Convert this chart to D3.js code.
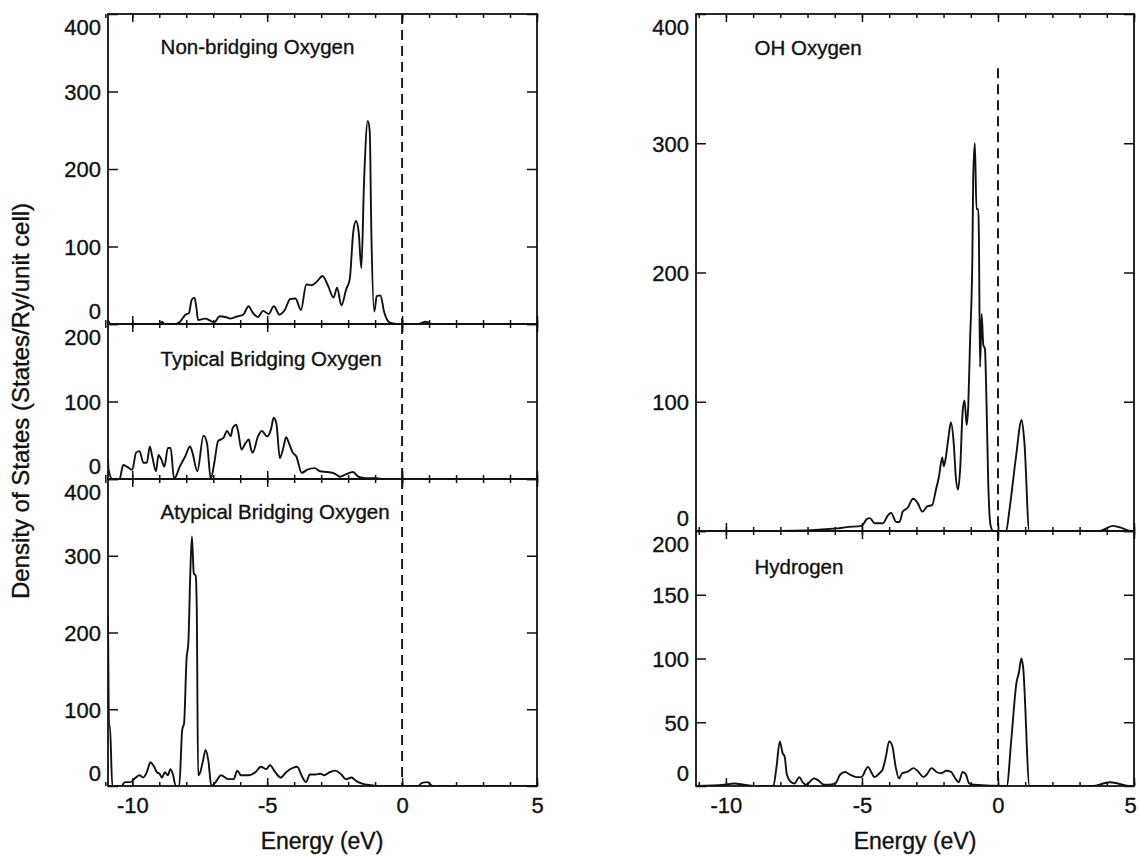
<!DOCTYPE html>
<html>
<head>
<meta charset="utf-8">
<script src="https://cdn.jsdelivr.net/npm/d3@7"></script>
<style>
  body { margin: 0; background: #fff; }
  svg text { font-family: "Liberation Sans", Arial, Helvetica, sans-serif; fill: #111; stroke: #111; stroke-width: 0.35px; }
</style>
</head>
<body>
<div id="chart"></div>
<script>
// energies in eV, density of states
var nonBridging = [[-10.9,5],[-10.8,0],[-9.0,0],[-8.9,3],[-8.8,0],[-8.4,0],[-8.23,3],[-8.03,12],[-7.9,14],[-7.8,31],[-7.7,34],[-7.63,23],[-7.56,5],[-7.3,7],[-7.1,4],[-6.96,2],[-6.76,10],[-6.56,9],[-6.36,7],[-6.09,10],[-5.89,12],[-5.69,23],[-5.56,16],[-5.35,9],[-5.15,17],[-4.95,13],[-4.75,23],[-4.55,12],[-4.35,18],[-4.15,32],[-3.95,33],[-3.75,18],[-3.55,51],[-3.35,50],[-3.15,55],[-2.95,62],[-2.74,49],[-2.54,34],[-2.41,47],[-2.25,24],[-2.07,45],[-1.94,58],[-1.81,119],[-1.71,133],[-1.61,119],[-1.51,72],[-1.41,184],[-1.27,262],[-1.2,249],[-1.14,119],[-1.03,16],[-0.94,36],[-0.8,37],[-0.67,16],[-0.47,2],[-0.2,0],[0.6,0],[0.87,3],[1.1,0],[5,0]];

var typicalBridging = [[-10.9,27],[-10.88,12],[-10.74,0],[-10.47,0],[-10.34,18],[-10.2,16],[-10.0,12],[-9.86,34],[-9.73,36],[-9.59,21],[-9.46,21],[-9.35,42],[-9.26,29],[-9.12,10],[-9.03,31],[-8.92,25],[-8.81,16],[-8.68,40],[-8.58,40],[-8.45,0],[-8.24,16],[-8.04,29],[-7.86,42],[-7.77,34],[-7.59,10],[-7.36,56],[-7.23,46],[-7.09,0],[-6.96,21],[-6.82,49],[-6.62,53],[-6.49,62],[-6.35,55],[-6.28,66],[-6.15,70],[-6.08,62],[-5.95,38],[-5.81,46],[-5.68,51],[-5.61,40],[-5.54,34],[-5.34,55],[-5.2,62],[-5.0,55],[-4.86,64],[-4.76,79],[-4.66,72],[-4.53,27],[-4.39,42],[-4.3,54],[-4.19,46],[-4.05,34],[-3.92,29],[-3.72,8],[-3.51,12],[-3.24,14],[-3.04,10],[-2.77,9],[-2.5,7],[-2.3,3],[-2.09,6],[-1.82,9],[-1.62,3],[-1.35,1],[-0.95,1],[-0.68,0],[5,0]];

var atypicalBridging = [[-10.9,222],[-10.86,79],[-10.83,79],[-10.74,0],[-10.4,0],[-10.27,5],[-10.07,5],[-9.87,11],[-9.73,14],[-9.6,11],[-9.46,18],[-9.33,31],[-9.19,25],[-9.09,18],[-8.99,16],[-8.9,11],[-8.79,18],[-8.68,14],[-8.59,22],[-8.5,16],[-8.39,0],[-8.26,0],[-8.15,73],[-8.08,82],[-7.99,165],[-7.92,188],[-7.85,277],[-7.79,325],[-7.72,277],[-7.65,274],[-7.61,231],[-7.56,14],[-7.48,18],[-7.38,33],[-7.28,47],[-7.18,33],[-7.07,0],[-6.91,5],[-6.71,14],[-6.44,9],[-6.24,9],[-6.11,20],[-5.97,14],[-5.7,14],[-5.44,18],[-5.23,25],[-5.03,22],[-4.9,27],[-4.7,18],[-4.5,11],[-4.3,18],[-4.03,24],[-3.89,25],[-3.69,11],[-3.56,5],[-3.42,15],[-3.22,15],[-3.02,16],[-2.89,14],[-2.68,18],[-2.48,20],[-2.28,16],[-2.08,9],[-1.88,11],[-1.68,6],[-1.48,3],[-1.14,1],[-0.87,0],[0.6,0],[0.74,4],[0.94,5],[1.14,0],[5,0]];

var ohOxygen = [[-11.1,0],[-8.09,0],[-5.92,2],[-5.56,3],[-5.01,4],[-4.83,9],[-4.71,10],[-4.53,6],[-4.23,6],[-4.05,12],[-3.93,14],[-3.74,7],[-3.62,7],[-3.5,15],[-3.32,18],[-3.12,25],[-2.96,22],[-2.78,15],[-2.6,19],[-2.42,20],[-2.29,31],[-2.17,42],[-2.05,57],[-1.99,50],[-1.91,58],[-1.81,74],[-1.73,84],[-1.63,69],[-1.55,42],[-1.47,32],[-1.39,48],[-1.3,92],[-1.23,101],[-1.15,82],[-1.09,98],[-1.03,144],[-0.94,214],[-0.91,274],[-0.85,300],[-0.79,249],[-0.72,249],[-0.7,226],[-0.66,127],[-0.6,168],[-0.54,144],[-0.48,141],[-0.42,98],[-0.36,39],[-0.27,4],[-0.18,0],[0.3,0],[0.42,16],[0.66,57],[0.87,86],[0.97,69],[1.15,0],[3.74,0],[4.23,4],[4.59,2],[4.89,0],[5,0]];

var hydrogen = [[-11.1,0],[-10.06,1],[-9.7,2],[-9.34,1],[-8.98,0],[-8.26,0],[-8.14,15],[-8.02,35],[-7.92,26],[-7.84,23],[-7.76,9],[-7.6,3],[-7.48,2],[-7.3,7],[-7.18,3],[-7.06,1],[-6.76,6],[-6.58,4],[-6.4,1],[-6.22,1],[-5.98,2],[-5.8,9],[-5.62,11],[-5.44,9],[-5.2,7],[-5.02,7],[-4.78,15],[-4.66,11],[-4.54,7],[-4.36,10],[-4.24,13],[-4.12,23],[-4.0,35],[-3.88,31],[-3.76,15],[-3.64,6],[-3.52,10],[-3.34,11],[-3.1,14],[-2.92,11],[-2.74,7],[-2.62,9],[-2.44,14],[-2.26,11],[-2.08,10],[-1.9,12],[-1.72,11],[-1.6,7],[-1.44,3],[-1.3,11],[-1.18,9],[-1.06,2],[-0.88,1],[0.32,0],[0.5,39],[0.68,81],[0.77,89],[0.86,100],[0.92,94],[1.16,0],[3.5,0],[3.87,2],[4.11,3],[4.41,2],[4.83,0],[5,0]];

var panelTitles = ["Non-bridging Oxygen", "Typical Bridging Oxygen", "Atypical Bridging Oxygen", "OH Oxygen", "Hydrogen"];
var xTickValues = [-10, -5, 0, 5];
var xMinorValues = d3.range(-11, 6);
var yTicks400 = [0, 100, 200, 300, 400];
var yTicks200 = [0, 100, 200];
var yTicksH = [0, 50, 100, 150, 200];
var fermiLevel = 0;

var svgWidth = 1139;
var svgHeight = 857;

var svg = d3.select("#chart")
    .append("svg")
    .attr("width", svgWidth)
    .attr("height", svgHeight);

var xLeft = d3.scaleLinear().domain([-10.9, 5]).range([108, 537]);
var xRight = d3.scaleLinear().domain([-11.1, 5]).range([696, 1134]);

var panels = [
    { data: nonBridging, title: panelTitles[0], x: xLeft, top: 14, bottom: 324, max: 400, ticks: yTicks400, titleY: 54, bottomAxis: false, dashFrom: null },
    { data: typicalBridging, title: panelTitles[1], x: xLeft, top: 324, bottom: 479, max: 200, ticks: yTicks200, titleY: 366, bottomAxis: false, dashFrom: null },
    { data: atypicalBridging, title: panelTitles[2], x: xLeft, top: 479, bottom: 786, max: 400, ticks: yTicks400, titleY: 519, bottomAxis: true, dashFrom: null },
    { data: ohOxygen, title: panelTitles[3], x: xRight, top: 14, bottom: 531, max: 400, ticks: yTicks400, titleY: 55, bottomAxis: false, dashFrom: 358 },
    { data: hydrogen, title: panelTitles[4], x: xRight, top: 531, bottom: 786, max: 200, ticks: yTicksH, titleY: 574, bottomAxis: true, dashFrom: null }
];

var plainNum = d => String(d);

panels.forEach(function(p, i) {
    var x = p.x;
    var y = d3.scaleLinear().domain([0, p.max]).range([p.bottom, p.top]);
    var x0 = x.range()[0], x1 = x.range()[1];
    var g = svg.append("g");

    g.append("clipPath").attr("id", "clip" + i)
        .append("rect")
        .attr("x", x0).attr("y", p.top)
        .attr("width", x1 - x0).attr("height", p.bottom - p.top);

    // data curve
    var line = d3.line().x(d => x(d[0])).y(d => y(d[1])).curve(d3.curveMonotoneX);
    g.append("path")
        .datum(p.data)
        .attr("clip-path", "url(#clip" + i + ")")
        .attr("fill", "none")
        .attr("stroke", "#111")
        .attr("stroke-width", 1.9)
        .attr("stroke-linejoin", "round")
        .attr("d", line);

    // fermi level
    var dashTop = p.dashFrom === null ? p.top : y(p.dashFrom);
    g.append("line")
        .attr("x1", x(fermiLevel)).attr("x2", x(fermiLevel))
        .attr("y1", dashTop).attr("y2", p.bottom)
        .attr("stroke", "#111")
        .attr("stroke-width", 1.9)
        .attr("stroke-dasharray", "10,6");

    // ticks, pointing inward
    var bottomMajor = d3.axisBottom(x).tickValues(xTickValues).tickSize(-8).tickPadding(11)
        .tickFormat(p.bottomAxis ? plainNum : "");
    var bottomMinor = d3.axisBottom(x).tickValues(xMinorValues).tickSize(-4).tickFormat("");
    var topMajor = d3.axisTop(x).tickValues(xTickValues).tickSize(-8).tickFormat("");
    var topMinor = d3.axisTop(x).tickValues(xMinorValues).tickSize(-4).tickFormat("");

    var bx = g.append("g").attr("transform", `translate(0, ${p.bottom})`).call(bottomMajor);
    g.append("g").attr("transform", `translate(0, ${p.bottom})`).call(bottomMinor);
    g.append("g").attr("transform", `translate(0, ${p.top})`).call(topMajor);
    g.append("g").attr("transform", `translate(0, ${p.top})`).call(topMinor);

    var leftAxis = d3.axisLeft(y).tickValues(p.ticks).tickSize(-10).tickPadding(7).tickFormat(plainNum);
    var rightAxis = d3.axisRight(y).tickValues(p.ticks).tickSize(-10).tickFormat("");
    var ly = g.append("g").attr("transform", `translate(${x0}, 0)`).call(leftAxis);
    g.append("g").attr("transform", `translate(${x1}, 0)`).call(rightAxis);

    g.selectAll(".domain").remove();
    g.selectAll(".tick line").attr("stroke", "#111").attr("stroke-width", 1.5);

    // end labels are pushed inside the panel, as in the original
    ly.selectAll(".tick text")
        .attr("font-size", 22)
        .attr("dy", d => d === 0 ? "-0.23em" : (d === p.max ? "0.91em" : "0.36em"));
    bx.selectAll(".tick text")
        .attr("font-size", 22)
        .attr("dy", "0.71em")
        .filter(d => d === 5 && x1 > 1100)
        .attr("text-anchor", "end")
        .attr("dx", "0.1em");

    // frame
    g.append("rect")
        .attr("x", x0).attr("y", p.top)
        .attr("width", x1 - x0).attr("height", p.bottom - p.top)
        .attr("fill", "none")
        .attr("stroke", "#111")
        .attr("stroke-width", 1.8);

    g.append("text")
        .attr("x", x(-8.95))
        .attr("y", p.titleY)
        .attr("font-size", 20.5)
        .text(p.title);
});

svg.append("text")
    .attr("transform", "translate(29, 401) rotate(-90)")
    .attr("text-anchor", "middle")
    .attr("font-size", 24)
    .text("Density of States (States/Ry/unit cell)");

svg.append("text")
    .attr("x", 322).attr("y", 849)
    .attr("text-anchor", "middle")
    .attr("font-size", 23)
    .text("Energy (eV)");

svg.append("text")
    .attr("x", 915).attr("y", 849)
    .attr("text-anchor", "middle")
    .attr("font-size", 23)
    .text("Energy (eV)");
</script>
</body>
</html>
